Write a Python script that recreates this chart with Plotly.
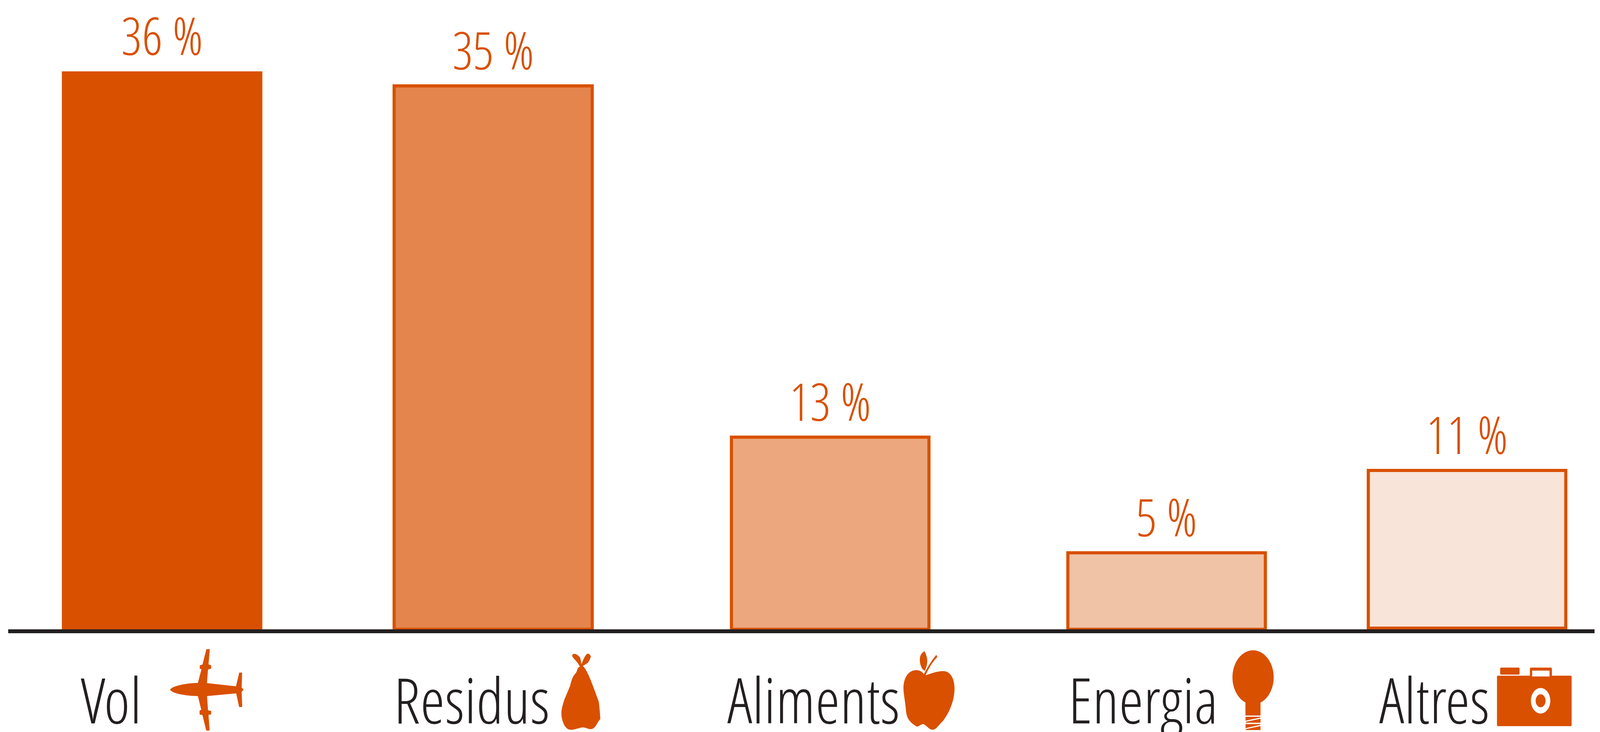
import re
import plotly.graph_objects as go

# --- data ---
categories = ["Vol", "Residus", "Aliments", "Energia", "Altres"]
values = [36.0, 35.06, 12.4, 4.94, 10.25]
value_labels = ["36 %", "35 %", "13 %", "5 %", "11 %"]

# --- layout constants (reference pixels, 5379 x 1875) ---
W, H = 5379, 1875
L, R, T, BASE = 28, 5360, 0, 1612
PX_PER_UNIT = 39.7
bar_centers = [545, 1658, 2791, 3922, 4932]
bar_widths = [674, 666, 664, 664, 664]
label_left = [270, 1322, 2444, 3590, 4636]
ORANGE = "#d95000"
fills = [ORANGE, "#e3854d", "#eca77f", "#f0c2a6", "#f8e4d9"]
line_widths = [0, 8, 8, 8, 8]
FONT = "Open Sans Condensed Light"


def px(x):
    return x / W


def py(y):
    return (BASE - y) / (BASE - T)


def icon_path(d, ox, oy):
    """Convert an icon outline given in 1/3 px units from (ox, oy) to paper coordinates."""
    out, is_x = [], True
    for tok in re.findall(r"[MLCQZ]|-?\d+\.?\d*", d):
        if tok.isalpha():
            out.append(tok)
            is_x = True
        else:
            v = float(tok) / 3
            val = px(ox + v) if is_x else py(oy + v)
            out.append(f"{val:.6f}" + ("," if is_x else " "))
            is_x = not is_x
    return " ".join(out).replace(", ", ",")


def path_shape(d, ox, oy, color=ORANGE):
    return dict(type="path", xref="paper", yref="paper", path=icon_path(d, ox, oy),
                fillcolor=color, line=dict(width=0), layer="above")


def circ(cx, cy, r, ox, oy, color):
    return dict(type="circle", xref="paper", yref="paper",
                x0=px(ox + (cx - r) / 3), x1=px(ox + (cx + r) / 3),
                y0=py(oy + (cy + r) / 3), y1=py(oy + (cy - r) / 3),
                fillcolor=color, line=dict(width=0), layer="above")


def rrect(x0, y0, x1, y1, r):
    return (f"M {x0+r} {y0} L {x1-r} {y0} Q {x1} {y0} {x1} {y0+r} L {x1} {y1-r} Q {x1} {y1} {x1-r} {y1} "
            f"L {x0+r} {y1} Q {x0} {y1} {x0} {y1-r} L {x0} {y0+r} Q {x0} {y0} {x0+r} {y0} Z")


shapes = []

# plane
shapes.append(path_shape(
    "M 35 350 C 60 320 200 300 316 298 L 352 192 L 335 190 L 335 163 L 362 157 L 402 38 L 436 38 L 423 155 "
    "L 449 163 L 449 188 L 418 195 L 407 299 L 700 324 L 733 218 L 762 218 L 757 332 L 777 350 L 757 366 "
    "L 763 483 L 732 483 L 702 378 L 408 399 L 418 508 L 449 513 L 449 540 L 423 543 L 434 664 L 400 664 "
    "L 362 545 L 333 540 L 333 510 L 350 505 L 316 399 C 200 398 60 380 35 350 Z", 560, 1650))
# pear
shapes.append(path_shape(
    "M 268 143 C 250 110 210 85 195 68 C 185 50 200 42 220 45 C 250 52 272 70 275 85 L 285 125 "
    "C 300 90 325 50 345 42 C 365 45 380 55 378 68 C 370 90 355 110 340 118 L 298 138 "
    "C 330 155 370 230 400 290 L 458 410 C 465 440 470 490 475 545 C 445 565 430 620 380 623 "
    "C 350 625 330 608 295 610 C 260 612 220 628 180 628 C 130 628 100 590 85 530 "
    "C 75 490 90 450 110 400 L 170 290 C 190 230 200 215 230 190 C 245 170 240 150 268 143 Z", 1860, 1660))
# apple
shapes.append(path_shape(
    "M 288 230 C 270 210 240 198 200 200 C 130 205 80 260 82 345 C 85 390 95 420 105 490 "
    "C 110 550 120 590 215 633 C 240 635 255 612 285 615 C 320 625 340 658 375 658 "
    "C 410 658 440 620 480 590 C 550 520 597 430 597 340 C 597 260 550 205 480 207 "
    "C 420 208 360 225 305 240 C 340 180 380 130 423 100 L 414 82 C 370 120 330 170 288 230 Z", 3010, 1650))
shapes.append(path_shape(
    "M 294 54 C 260 70 245 90 247 125 C 250 165 270 200 298 203 C 320 170 325 130 320 110 C 315 90 305 70 294 54 Z",
    3010, 1650))
# bulb
shapes.append(circ(278, 255, 208, 4120, 1650, ORANGE))
shapes.append(path_shape("M 201 430 L 353 430 L 353 548 L 201 548 Z", 4120, 1650))
for d in ["M 202 558 L 352 558 L 352 564 L 202 588 Z", "M 204 597 L 353 573 L 353 604 L 204 604 Z",
          "M 202 614 L 352 614 L 352 620 L 202 645 Z", "M 204 653 L 353 629 L 353 660 L 204 660 Z"]:
    shapes.append(path_shape(d, 4120, 1650))
# camera
shapes.append(path_shape(rrect(68, 122, 821, 510, 10), 5010, 1690))
shapes.append(path_shape(rrect(100, 60, 296, 114, 10), 5010, 1690))
shapes.append(path_shape(rrect(400, 60, 622, 130, 12), 5010, 1690))
shapes.append(path_shape("M 423 83 L 598 83 L 598 128 L 423 128 Z", 5010, 1690, "#ffffff"))
shapes.append(circ(508, 315, 98, 5010, 1690, "#ffffff"))
shapes.append(circ(508, 315, 50, 5010, 1690, ORANGE))
# thicker foot of the last bar
shapes.append(dict(type="rect", xref="paper", yref="paper", x0=px(4596), x1=px(5268), y0=py(1612), y1=py(1605),
                   fillcolor=ORANGE, line=dict(width=0), layer="above"))

fig = go.Figure(go.Bar(
    x=bar_centers, y=values, width=bar_widths,
    marker=dict(color=fills, line=dict(color=ORANGE, width=line_widths)),
    text=value_labels, textposition="outside", cliponaxis=False,
    textfont=dict(family=FONT, size=133, color=ORANGE),
    hoverinfo="skip",
))

annotations = [
    dict(text=c, x=x, xref="x", y=py(1860 + 41), yref="paper", xanchor="left", yanchor="bottom",
         showarrow=False, font=dict(family=FONT, size=160, color="#231f20"), borderpad=0)
    for c, x in zip(categories, label_left)
]

fig.update_layout(
    height=H, autosize=True,
    margin=dict(l=0, r=0, t=T, b=H - BASE, pad=0),
    paper_bgcolor="white", plot_bgcolor="white",
    showlegend=False, shapes=shapes, annotations=annotations,
    xaxis=dict(domain=[L / W, R / W], range=[L, R], showgrid=False, zeroline=False,
               showticklabels=False, ticks="", showline=True, linecolor="#231f20", linewidth=10),
    yaxis=dict(range=[0, (BASE - T) / PX_PER_UNIT], visible=False, showgrid=False, zeroline=False),
    font=dict(family=FONT),
)

post = "document.body.style.margin='0';Plotly.Plots.resize(document.getElementById('{plot_id}'));"
fig.write_html("out.html", default_width="100%", config=dict(responsive=True, displayModeBar=False), post_script=post)
